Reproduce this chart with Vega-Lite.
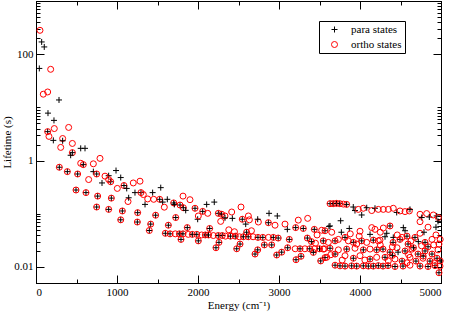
{
"$schema": "https://vega.github.io/schema/vega-lite/v6.json",
"width": 405, "height": 282,
"autosize": {"type": "none"},
"padding": {"left": 36, "top": 1, "right": 11, "bottom": 32},
"background": "white",
"config": {
 "view": {"stroke": "black", "strokeWidth": 1},
 "axis": {"grid": false, "domainColor": "black", "tickColor": "black", "labelColor": "black", "titleColor": "black", "labelFont": "Liberation Serif", "titleFont": "Liberation Serif", "labelFontSize": 11, "titleFontSize": 11, "titleFontWeight": "normal", "tickWidth": 1, "domainWidth": 1}
},
"datasets": {"pts": [
{"E":49,"L":281,"s":"o"},{"E":70,"L":170,"s":"p"},{"E":102,"L":137,"s":"p"},{"E":41,"L":54,"s":"p"},{"E":181,"L":52,"s":"o"},
{"E":144,"L":19.5,"s":"o"},{"E":90,"L":17.7,"s":"o"},{"E":284,"L":13.8,"s":"p"},{"E":148,"L":7.8,"s":"p"},{"E":222,"L":5.7,"s":"p"},
{"E":403,"L":4.2,"s":"o"},{"E":226,"L":4.0,"s":"o"},{"E":144,"L":3.5,"s":"p"},{"E":144,"L":3.5,"s":"o"},{"E":160,"L":2.85,"s":"o"},
{"E":214,"L":2.4,"s":"p"},{"E":329,"L":2.6,"s":"o"},{"E":329,"L":2.36,"s":"p"},{"E":449,"L":2.1,"s":"o"},{"E":305,"L":1.77,"s":"o"},
{"E":552,"L":1.7,"s":"p"},{"E":605,"L":1.7,"s":"p"},{"E":449,"L":1.41,"s":"p"},{"E":449,"L":1.41,"s":"o"},{"E":428,"L":1.26,"s":"p"},
{"E":790,"L":1.1,"s":"o"},{"E":552,"L":0.89,"s":"o"},{"E":584,"L":0.84,"s":"p"},{"E":584,"L":0.84,"s":"o"},{"E":708,"L":0.87,"s":"o"},
{"E":288,"L":0.75,"s":"p"},{"E":288,"L":0.75,"s":"o"},{"E":387,"L":0.62,"s":"p"},{"E":387,"L":0.62,"s":"o"},{"E":514,"L":0.56,"s":"p"},{"E":514,"L":0.56,"s":"o"},
{"E":708,"L":0.62,"s":"p"},{"E":749,"L":0.56,"s":"p"},{"E":749,"L":0.56,"s":"o"},{"E":988,"L":0.65,"s":"p"},{"E":897,"L":0.52,"s":"p"},
{"E":852,"L":0.51,"s":"o"},{"E":650,"L":0.44,"s":"o"},{"E":1046,"L":0.48,"s":"p"},{"E":922,"L":0.4,"s":"p"},{"E":922,"L":0.4,"s":"o"},
{"E":897,"L":0.44,"s":"o"},{"E":815,"L":0.38,"s":"p"},{"E":1086,"L":0.34,"s":"p"},{"E":1086,"L":0.34,"s":"o"},{"E":1004,"L":0.3,"s":"o"},
{"E":1120,"L":0.3,"s":"p"},{"E":1136,"L":0.17,"s":"o"},{"E":1144,"L":0.2,"s":"p"},
{"E":494,"L":0.28,"s":"p"},{"E":494,"L":0.28,"s":"o"},{"E":617,"L":0.25,"s":"p"},{"E":617,"L":0.25,"s":"o"},
{"E":761,"L":0.215,"s":"p"},{"E":761,"L":0.215,"s":"o"},{"E":930,"L":0.197,"s":"p"},{"E":930,"L":0.197,"s":"o"},
{"E":749,"L":0.134,"s":"p"},{"E":749,"L":0.134,"s":"o"},{"E":897,"L":0.121,"s":"p"},{"E":897,"L":0.121,"s":"o"},
{"E":1066,"L":0.113,"s":"p"},{"E":1066,"L":0.113,"s":"o"},{"E":1046,"L":0.077,"s":"p"},{"E":1046,"L":0.077,"s":"o"},
{"E":1251,"L":0.07,"s":"p"},{"E":1251,"L":0.07,"s":"o"},{"E":1255,"L":0.105,"s":"p"},{"E":1255,"L":0.105,"s":"o"},
{"E":1399,"L":0.0485,"s":"p"},{"E":1399,"L":0.0485,"s":"o"},{"E":1416,"L":0.064,"s":"p"},{"E":1416,"L":0.064,"s":"o"},
{"E":1477,"L":0.094,"s":"p"},{"E":1477,"L":0.094,"s":"o"},
{"E":1201,"L":0.38,"s":"o"},{"E":1284,"L":0.41,"s":"o"},{"E":1222,"L":0.25,"s":"p"},{"E":1296,"L":0.25,"s":"p"},{"E":1296,"L":0.25,"s":"o"},
{"E":1325,"L":0.23,"s":"o"},{"E":1346,"L":0.15,"s":"p"},{"E":1379,"L":0.19,"s":"o"},{"E":1440,"L":0.25,"s":"p"},{"E":1453,"L":0.187,"s":"o"},
{"E":1540,"L":0.31,"s":"p"},{"E":1527,"L":0.187,"s":"p"},{"E":1527,"L":0.187,"s":"o"},{"E":1564,"L":0.166,"s":"p"},{"E":1584,"L":0.133,"s":"o"},
{"E":1621,"L":0.187,"s":"p"},{"E":1700,"L":0.16,"s":"p"},{"E":1700,"L":0.16,"s":"o"},{"E":1725,"L":0.085,"s":"p"},{"E":1725,"L":0.085,"s":"o"},
{"E":1708,"L":0.15,"s":"p"},{"E":1815,"L":0.215,"s":"o"},{"E":1901,"L":0.184,"s":"o"},{"E":1778,"L":0.146,"s":"p"},{"E":1778,"L":0.146,"s":"o"},
{"E":1819,"L":0.13,"s":"p"},{"E":1819,"L":0.13,"s":"o"},{"E":1848,"L":0.116,"s":"p"},{"E":1963,"L":0.127,"s":"p"},{"E":1963,"L":0.127,"s":"o"},
{"E":1996,"L":0.079,"s":"p"},{"E":2004,"L":0.091,"s":"o"},{"E":2058,"L":0.111,"s":"p"},{"E":2058,"L":0.111,"s":"o"},{"E":2107,"L":0.15,"s":"p"},
{"E":2120,"L":0.102,"s":"o"},{"E":2201,"L":0.166,"s":"p"},{"E":2251,"L":0.102,"s":"p"},{"E":2251,"L":0.102,"s":"o"},{"E":2292,"L":0.098,"s":"p"},
{"E":2292,"L":0.098,"s":"o"},{"E":2333,"L":0.091,"s":"o"},{"E":2280,"L":0.072,"s":"o"},{"E":2333,"L":0.084,"s":"p"},
{"E":1597,"L":0.043,"s":"p"},{"E":1597,"L":0.043,"s":"o"},{"E":1655,"L":0.042,"s":"p"},{"E":1655,"L":0.042,"s":"o"},{"E":1720,"L":0.042,"s":"o"},
{"E":1770,"L":0.042,"s":"p"},{"E":1770,"L":0.042,"s":"o"},{"E":1815,"L":0.042,"s":"p"},{"E":1815,"L":0.042,"s":"o"},{"E":1880,"L":0.041,"s":"o"},
{"E":1930,"L":0.041,"s":"p"},{"E":1930,"L":0.041,"s":"o"},{"E":1985,"L":0.041,"s":"p"},{"E":1985,"L":0.041,"s":"o"},{"E":2045,"L":0.04,"s":"o"},
{"E":2090,"L":0.04,"s":"p"},{"E":2090,"L":0.04,"s":"o"},{"E":2130,"L":0.04,"s":"p"},{"E":2130,"L":0.04,"s":"o"},{"E":2190,"L":0.039,"s":"o"},
{"E":2250,"L":0.039,"s":"p"},{"E":2250,"L":0.039,"s":"o"},{"E":2300,"L":0.039,"s":"p"},{"E":2300,"L":0.039,"s":"o"},{"E":2340,"L":0.038,"s":"o"},
{"E":2400,"L":0.038,"s":"p"},{"E":2400,"L":0.038,"s":"o"},{"E":2460,"L":0.038,"s":"p"},{"E":2460,"L":0.038,"s":"o"},{"E":2510,"L":0.037,"s":"o"},
{"E":2560,"L":0.037,"s":"p"},{"E":2560,"L":0.037,"s":"o"},{"E":2620,"L":0.037,"s":"p"},{"E":2620,"L":0.037,"s":"o"},{"E":2680,"L":0.037,"s":"o"},
{"E":2740,"L":0.036,"s":"p"},{"E":2740,"L":0.036,"s":"o"},{"E":2800,"L":0.036,"s":"p"},{"E":2800,"L":0.036,"s":"o"},{"E":2870,"L":0.036,"s":"o"},
{"E":2930,"L":0.036,"s":"p"},{"E":2930,"L":0.036,"s":"o"},{"E":2990,"L":0.035,"s":"p"},{"E":2990,"L":0.035,"s":"o"},
{"E":1634,"L":0.061,"s":"p"},{"E":1634,"L":0.061,"s":"o"},{"E":1868,"L":0.055,"s":"p"},{"E":1868,"L":0.055,"s":"o"},
{"E":1790,"L":0.033,"s":"p"},{"E":1790,"L":0.033,"s":"o"},{"E":2004,"L":0.031,"s":"p"},{"E":2004,"L":0.031,"s":"o"},
{"E":2144,"L":0.053,"s":"p"},{"E":2144,"L":0.053,"s":"o"},{"E":2222,"L":0.023,"s":"p"},{"E":2222,"L":0.023,"s":"o"},
{"E":2259,"L":0.029,"s":"p"},{"E":2259,"L":0.029,"s":"o"},
{"E":2416,"L":0.108,"s":"o"},{"E":2531,"L":0.134,"s":"o"},{"E":2424,"L":0.082,"s":"p"},{"E":2547,"L":0.079,"s":"p"},{"E":2547,"L":0.079,"s":"o"},
{"E":2589,"L":0.064,"s":"p"},{"E":2622,"L":0.091,"s":"o"},{"E":2634,"L":0.077,"s":"o"},{"E":2745,"L":0.07,"s":"o"},{"E":2737,"L":0.079,"s":"p"},
{"E":2877,"L":0.102,"s":"p"},{"E":2979,"L":0.091,"s":"p"},{"E":2869,"L":0.068,"s":"p"},{"E":2869,"L":0.068,"s":"o"},{"E":2951,"L":0.061,"s":"o"},
{"E":3074,"L":0.064,"s":"o"},{"E":3103,"L":0.051,"s":"p"},{"E":3238,"L":0.076,"s":"o"},{"E":3354,"L":0.082,"s":"o"},
{"E":3206,"L":0.055,"s":"p"},{"E":3206,"L":0.055,"s":"o"},{"E":3300,"L":0.053,"s":"p"},{"E":3300,"L":0.053,"s":"o"},
{"E":3436,"L":0.051,"s":"p"},{"E":3436,"L":0.051,"s":"o"},{"E":3568,"L":0.048,"s":"p"},{"E":3568,"L":0.048,"s":"o"},{"E":3617,"L":0.058,"s":"p"},
{"E":2478,"L":0.022,"s":"p"},{"E":2478,"L":0.022,"s":"o"},{"E":2519,"L":0.027,"s":"p"},{"E":2519,"L":0.027,"s":"o"},
{"E":2704,"L":0.0175,"s":"p"},{"E":2704,"L":0.0175,"s":"o"},{"E":2737,"L":0.021,"s":"p"},{"E":2737,"L":0.021,"s":"o"},
{"E":2819,"L":0.026,"s":"p"},{"E":2819,"L":0.026,"s":"o"},{"E":2910,"L":0.026,"s":"p"},{"E":2910,"L":0.026,"s":"o"},
{"E":2972,"L":0.0168,"s":"p"},{"E":2972,"L":0.0168,"s":"o"},{"E":3033,"L":0.019,"s":"p"},{"E":3033,"L":0.019,"s":"o"},
{"E":3107,"L":0.023,"s":"p"},{"E":3107,"L":0.023,"s":"o"},{"E":3127,"L":0.033,"s":"p"},{"E":3127,"L":0.033,"s":"o"},
{"E":3200,"L":0.022,"s":"o"},{"E":3260,"L":0.022,"s":"p"},{"E":3260,"L":0.022,"s":"o"},{"E":3320,"L":0.022,"s":"o"},{"E":3380,"L":0.022,"s":"p"},
{"E":3380,"L":0.022,"s":"o"},{"E":3440,"L":0.022,"s":"o"},{"E":3500,"L":0.022,"s":"p"},{"E":3500,"L":0.022,"s":"o"},{"E":3560,"L":0.022,"s":"o"},
{"E":3210,"L":0.0137,"s":"p"},{"E":3210,"L":0.0137,"s":"o"},{"E":3272,"L":0.0159,"s":"p"},{"E":3272,"L":0.0159,"s":"o"},
{"E":3424,"L":0.0188,"s":"p"},{"E":3424,"L":0.0188,"s":"o"},{"E":3515,"L":0.013,"s":"p"},{"E":3515,"L":0.013,"s":"o"},
{"E":3568,"L":0.015,"s":"p"},{"E":3568,"L":0.015,"s":"o"},
{"E":2380,"L":0.05,"s":"o"},{"E":2450,"L":0.046,"s":"o"},{"E":2600,"L":0.045,"s":"p"},{"E":2600,"L":0.045,"s":"o"},{"E":2660,"L":0.048,"s":"o"},
{"E":3350,"L":0.035,"s":"p"},{"E":3350,"L":0.035,"s":"o"},{"E":3470,"L":0.04,"s":"o"},
{"E":3630,"L":0.155,"s":"p"},{"E":3630,"L":0.155,"s":"o"},{"E":3670,"L":0.155,"s":"p"},{"E":3670,"L":0.155,"s":"o"},
{"E":3710,"L":0.157,"s":"p"},{"E":3710,"L":0.157,"s":"o"},{"E":3750,"L":0.155,"s":"p"},{"E":3750,"L":0.155,"s":"o"},
{"E":3795,"L":0.152,"s":"o"},{"E":3835,"L":0.15,"s":"p"},{"E":3835,"L":0.15,"s":"o"},{"E":3917,"L":0.134,"s":"p"},{"E":3938,"L":0.115,"s":"p"},
{"E":3979,"L":0.121,"s":"o"},{"E":4021,"L":0.095,"s":"p"},{"E":4041,"L":0.127,"s":"o"},{"E":4083,"L":0.13,"s":"p"},{"E":4145,"L":0.115,"s":"o"},
{"E":4185,"L":0.127,"s":"p"},{"E":4226,"L":0.121,"s":"o"},{"E":4288,"L":0.121,"s":"o"},{"E":4350,"L":0.121,"s":"o"},{"E":4411,"L":0.127,"s":"o"},
{"E":4453,"L":0.106,"s":"p"},{"E":4494,"L":0.113,"s":"o"},{"E":4556,"L":0.11,"s":"o"},{"E":4609,"L":0.113,"s":"o"},{"E":4617,"L":0.121,"s":"p"},
{"E":4741,"L":0.098,"s":"o"},{"E":4762,"L":0.085,"s":"p"},{"E":4823,"L":0.101,"s":"o"},{"E":4856,"L":0.087,"s":"p"},{"E":4905,"L":0.095,"s":"o"},
{"E":4947,"L":0.091,"s":"p"},{"E":4967,"L":0.085,"s":"o"},{"E":4741,"L":0.071,"s":"o"},{"E":4963,"L":0.072,"s":"p"},
{"E":3761,"L":0.074,"s":"p"},{"E":3868,"L":0.053,"s":"p"},{"E":4145,"L":0.055,"s":"o"},{"E":3630,"L":0.059,"s":"p"},{"E":3527,"L":0.049,"s":"o"},
{"E":3651,"L":0.045,"s":"o"},{"E":4000,"L":0.047,"s":"o"},{"E":4185,"L":0.051,"s":"o"},{"E":4124,"L":0.041,"s":"p"},
{"E":3547,"L":0.031,"s":"p"},{"E":3547,"L":0.031,"s":"o"},{"E":3609,"L":0.029,"s":"o"},{"E":3692,"L":0.031,"s":"p"},{"E":3692,"L":0.031,"s":"o"},
{"E":3733,"L":0.033,"s":"o"},{"E":3815,"L":0.036,"s":"p"},{"E":3815,"L":0.036,"s":"o"},{"E":3856,"L":0.031,"s":"o"},{"E":3918,"L":0.029,"s":"p"},
{"E":3918,"L":0.029,"s":"o"},{"E":3959,"L":0.027,"s":"o"},{"E":4021,"L":0.031,"s":"p"},{"E":4021,"L":0.031,"s":"o"},{"E":4083,"L":0.029,"s":"o"},
{"E":4164,"L":0.032,"s":"p"},{"E":4164,"L":0.032,"s":"o"},{"E":4226,"L":0.031,"s":"o"},
{"E":3547,"L":0.0217,"s":"o"},{"E":3630,"L":0.0225,"s":"p"},{"E":3630,"L":0.0225,"s":"o"},{"E":3733,"L":0.021,"s":"o"},{"E":3836,"L":0.0217,"s":"p"},
{"E":3836,"L":0.0217,"s":"o"},{"E":3938,"L":0.0225,"s":"o"},{"E":4041,"L":0.021,"s":"p"},{"E":4041,"L":0.021,"s":"o"},{"E":4124,"L":0.0217,"s":"o"},
{"E":4206,"L":0.021,"s":"p"},{"E":4206,"L":0.021,"s":"o"},
{"E":3589,"L":0.0152,"s":"o"},{"E":3692,"L":0.0175,"s":"p"},{"E":3692,"L":0.0175,"s":"o"},{"E":3815,"L":0.0163,"s":"o"},{"E":3918,"L":0.0146,"s":"p"},
{"E":3918,"L":0.0146,"s":"o"},{"E":4000,"L":0.0163,"s":"o"},{"E":4124,"L":0.0141,"s":"p"},{"E":4124,"L":0.0141,"s":"o"},{"E":4206,"L":0.0152,"s":"o"},
{"E":3692,"L":0.0108,"s":"p"},{"E":3692,"L":0.0108,"s":"o"},{"E":3753,"L":0.0105,"s":"p"},{"E":3753,"L":0.0105,"s":"o"},
{"E":3815,"L":0.0104,"s":"p"},{"E":3815,"L":0.0104,"s":"o"},{"E":3897,"L":0.0105,"s":"p"},{"E":3897,"L":0.0105,"s":"o"},
{"E":3959,"L":0.0104,"s":"p"},{"E":3959,"L":0.0104,"s":"o"},{"E":4041,"L":0.0105,"s":"p"},{"E":4041,"L":0.0105,"s":"o"},
{"E":4103,"L":0.0104,"s":"p"},{"E":4103,"L":0.0104,"s":"o"},{"E":4164,"L":0.0104,"s":"p"},{"E":4164,"L":0.0104,"s":"o"},
{"E":4226,"L":0.0106,"s":"p"},{"E":4226,"L":0.0106,"s":"o"},
{"E":4288,"L":0.054,"s":"o"},{"E":4370,"L":0.059,"s":"p"},{"E":4370,"L":0.059,"s":"o"},{"E":4535,"L":0.055,"s":"p"},{"E":4556,"L":0.048,"s":"p"},
{"E":4741,"L":0.043,"s":"o"},{"E":4309,"L":0.037,"s":"p"},{"E":4411,"L":0.036,"s":"p"},{"E":4247,"L":0.032,"s":"o"},
{"E":4408,"L":0.029,"s":"p"},{"E":4408,"L":0.029,"s":"o"},{"E":4494,"L":0.033,"s":"p"},{"E":4494,"L":0.033,"s":"o"},
{"E":4593,"L":0.027,"s":"p"},{"E":4593,"L":0.027,"s":"o"},{"E":4679,"L":0.036,"s":"p"},{"E":4679,"L":0.036,"s":"o"},
{"E":4803,"L":0.029,"s":"p"},{"E":4803,"L":0.029,"s":"o"},{"E":4889,"L":0.033,"s":"o"},{"E":4975,"L":0.027,"s":"o"},
{"E":4284,"L":0.0217,"s":"p"},{"E":4284,"L":0.0217,"s":"o"},{"E":4370,"L":0.019,"s":"p"},{"E":4370,"L":0.019,"s":"o"},{"E":4457,"L":0.023,"s":"o"},
{"E":4556,"L":0.02,"s":"p"},{"E":4556,"L":0.02,"s":"o"},{"E":4642,"L":0.0217,"s":"o"},{"E":4716,"L":0.0175,"s":"p"},{"E":4716,"L":0.0175,"s":"o"},
{"E":4803,"L":0.02,"s":"p"},{"E":4803,"L":0.02,"s":"o"},{"E":4889,"L":0.0175,"s":"p"},{"E":4889,"L":0.0175,"s":"o"},{"E":4963,"L":0.021,"s":"o"},
{"E":4309,"L":0.0152,"s":"p"},{"E":4309,"L":0.0152,"s":"o"},{"E":4432,"L":0.0141,"s":"o"},{"E":4519,"L":0.0129,"s":"p"},{"E":4519,"L":0.0129,"s":"o"},
{"E":4617,"L":0.0152,"s":"o"},{"E":4691,"L":0.0129,"s":"p"},{"E":4691,"L":0.0129,"s":"o"},{"E":4778,"L":0.0146,"s":"o"},
{"E":4864,"L":0.0129,"s":"p"},{"E":4864,"L":0.0129,"s":"o"},{"E":4951,"L":0.0146,"s":"p"},{"E":4951,"L":0.0146,"s":"o"},
{"E":4284,"L":0.0104,"s":"p"},{"E":4284,"L":0.0104,"s":"o"},{"E":4346,"L":0.0106,"s":"p"},{"E":4346,"L":0.0106,"s":"o"},
{"E":4432,"L":0.0102,"s":"p"},{"E":4432,"L":0.0102,"s":"o"},{"E":4531,"L":0.0104,"s":"p"},{"E":4531,"L":0.0104,"s":"o"},
{"E":4617,"L":0.0108,"s":"o"},{"E":4741,"L":0.0104,"s":"p"},{"E":4741,"L":0.0104,"s":"o"},{"E":4840,"L":0.0102,"s":"p"},
{"E":4840,"L":0.0102,"s":"o"},{"E":4926,"L":0.0106,"s":"p"},{"E":4926,"L":0.0106,"s":"o"},{"E":4988,"L":0.0104,"s":"o"},
{"E":4975,"L":0.0078,"s":"p"},{"E":4975,"L":0.0078,"s":"o"},{"E":4840,"L":0.056,"s":"o"},{"E":4790,"L":0.045,"s":"p"},
{"E":4938,"L":0.04,"s":"o"},{"E":4938,"L":0.056,"s":"p"},
{"E":4250,"L":0.045,"s":"o"},{"E":4330,"L":0.043,"s":"p"},{"E":4460,"L":0.04,"s":"o"},{"E":4520,"L":0.036,"s":"o"},{"E":4580,"L":0.038,"s":"p"},
{"E":4580,"L":0.038,"s":"o"},{"E":4630,"L":0.031,"s":"o"},{"E":4720,"L":0.03,"s":"p"},{"E":4760,"L":0.025,"s":"o"},{"E":4840,"L":0.024,"s":"p"},
{"E":4840,"L":0.024,"s":"o"},{"E":4910,"L":0.026,"s":"o"},{"E":4990,"L":0.033,"s":"o"},{"E":4660,"L":0.023,"s":"p"},{"E":4660,"L":0.023,"s":"o"},
{"E":4400,"L":0.024,"s":"o"},{"E":4470,"L":0.019,"s":"p"},{"E":4600,"L":0.017,"s":"o"},{"E":4780,"L":0.016,"s":"p"},{"E":4780,"L":0.016,"s":"o"},
{"E":4920,"L":0.012,"s":"o"},{"E":4990,"L":0.013,"s":"p"},{"E":4990,"L":0.013,"s":"o"},{"E":4350,"L":0.013,"s":"o"},{"E":4580,"L":0.012,"s":"o"},
{"E":4400,"L":0.0165,"s":"p"},{"E":4400,"L":0.0165,"s":"o"},{"E":4250,"L":0.026,"s":"o"},{"E":3990,"L":0.038,"s":"o"},{"E":3880,"L":0.042,"s":"o"},
{"E":3770,"L":0.045,"s":"p"},{"E":3450,"L":0.028,"s":"o"},{"E":3400,"L":0.03,"s":"p"},{"E":3400,"L":0.03,"s":"o"},{"E":3640,"L":0.017,"s":"o"},
{"E":3780,"L":0.0135,"s":"o"},{"E":4060,"L":0.0135,"s":"o"}
]},
"layer": [
 {"data": {"name": "pts"},
  "mark": {"type": "point", "filled": false, "strokeWidth": 1, "size": 36, "opacity": 1},
  "encoding": {
   "x": {"field": "E", "type": "quantitative", "scale": {"domain": [0, 5000], "nice": false, "zero": false},
    "axis": {"orient": "bottom", "values": [0, 1000, 2000, 3000, 4000, 5000], "format": "d", "tickSize": -8, "labelPadding": 11, "title": "Energy (cm⁻¹)", "titlePadding": 2}},
   "y": {"field": "L", "type": "quantitative", "scale": {"type": "log", "domain": [0.005, 1000], "nice": false},
    "axis": {"orient": "left", "values": [0.01, 1, 100], "format": "~g", "tickSize": -8, "labelPadding": 11, "title": "Lifetime (s)", "titlePadding": 1}},
   "shape": {"field": "s", "type": "nominal", "scale": {"domain": ["p", "o"], "range": ["M-1,0L1,0M0,-1L0,1", "circle"]},
    "legend": {"title": null, "orient": "none", "legendX": 283, "legendY": 20, "strokeColor": "black", "fillColor": "white", "padding": 3, "symbolOffset": 7, "labelOffset": 11, "labelFont": "Liberation Serif", "labelFontSize": 11, "labelColor": "black", "symbolSize": 36, "symbolStrokeWidth": 1, "rowPadding": 3, "labelExpr": "datum.label == 'p' ? 'para states' : 'ortho states'"}},
   "color": {"field": "s", "type": "nominal", "scale": {"domain": ["p", "o"], "range": ["black", "red"]},
    "legend": {"title": null, "orient": "none", "legendX": 283, "legendY": 20, "strokeColor": "black", "fillColor": "white", "padding": 3, "symbolOffset": 7, "labelOffset": 11, "labelFont": "Liberation Serif", "labelFontSize": 11, "labelColor": "black", "symbolSize": 36, "symbolStrokeWidth": 1, "rowPadding": 3, "labelExpr": "datum.label == 'p' ? 'para states' : 'ortho states'"}}
  }},
 {"data": {"name": "pts"},
  "mark": {"type": "point", "opacity": 0},
  "encoding": {
   "x": {"field": "E", "type": "quantitative", "axis": {"orient": "bottom", "values": [500, 1500, 2500, 3500, 4500], "labels": false, "tickSize": -4, "title": null}},
   "y": {"field": "L", "type": "quantitative", "axis": {"orient": "left", "values": [0.02, 0.03, 0.04, 0.05, 0.06, 0.07, 0.08, 0.09, 0.1, 2, 3, 4, 5, 6, 7, 8, 9, 10, 200, 300, 400, 500, 600, 700, 800, 900], "labels": false, "tickSize": -4, "title": null}}
  }},
 {"data": {"name": "pts"},
  "mark": {"type": "point", "opacity": 0},
  "encoding": {
   "x": {"field": "E", "type": "quantitative", "axis": {"orient": "top", "values": [0, 1000, 2000, 3000, 4000, 5000], "labels": false, "tickSize": -8, "title": null}},
   "y": {"field": "L", "type": "quantitative", "axis": {"orient": "right", "values": [0.01, 1, 100], "labels": false, "tickSize": -8, "title": null}}
  }},
 {"data": {"name": "pts"},
  "mark": {"type": "point", "opacity": 0},
  "encoding": {
   "x": {"field": "E", "type": "quantitative", "axis": {"orient": "top", "values": [500, 1500, 2500, 3500, 4500], "labels": false, "tickSize": -4, "title": null}},
   "y": {"field": "L", "type": "quantitative", "axis": {"orient": "right", "values": [0.02, 0.03, 0.04, 0.05, 0.06, 0.07, 0.08, 0.09, 0.1, 2, 3, 4, 5, 6, 7, 8, 9, 10, 200, 300, 400, 500, 600, 700, 800, 900], "labels": false, "tickSize": -4, "title": null}}
  }}
],
"resolve": {"axis": {"x": "independent", "y": "independent"}}
}
